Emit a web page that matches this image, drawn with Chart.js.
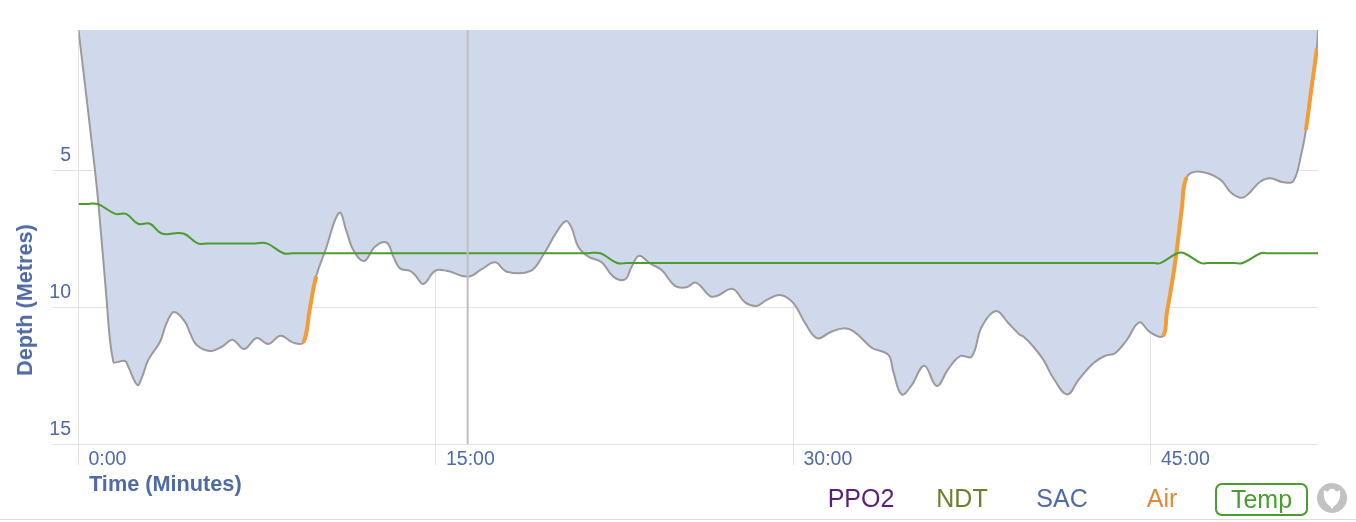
<!DOCTYPE html>
<html>
<head>
<meta charset="utf-8">
<script src="https://cdn.jsdelivr.net/npm/chart.js@4/dist/chart.umd.min.js"></script>
<style>
html,body{margin:0;padding:0;background:#fff;width:1356px;height:522px;overflow:hidden;font-family:"Liberation Sans",sans-serif}
#wrap{position:relative;width:1356px;height:522px}
canvas{position:absolute;left:0;top:0}
.t{position:absolute;white-space:nowrap}
.axis{font-weight:700;font-size:21.7px;color:#4f6aa5;line-height:24px}
#ytitle{left:25px;top:300px;transform:translate(-50%,-50%) rotate(-90deg)}
#xtitle{left:89px;top:472px}
.lg{font-size:25px;line-height:30px;top:483px;transform:translateX(-50%)}
#temp{left:1215px;top:483px;width:89px;height:29px;border:2px solid #4a9c2f;border-radius:7px;color:#4a9c2f;text-align:center;line-height:29px;font-size:25px;position:absolute}
#rule{position:absolute;left:0;top:519px;width:1356px;height:1px;background:#dcdcdc}
#icon{position:absolute;left:1317px;top:483px}
</style>
</head>
<body>
<div id="wrap">
<canvas id="c" width="1356" height="522"></canvas>
<div class="t axis" id="ytitle">Depth (Metres)</div>
<div class="t axis" id="xtitle">Time (Minutes)</div>
<div class="t lg" style="left:861px;color:#5a1f7a">PPO2</div>
<div class="t lg" style="left:962px;color:#6f7d2c">NDT</div>
<div class="t lg" style="left:1062px;color:#4f6aa5">SAC</div>
<div class="t lg" style="left:1162px;color:#e08a38">Air</div>
<div id="temp">Temp</div>
<svg id="icon" width="30" height="30" viewBox="0 0 30 30"><circle cx="15" cy="15" r="15" fill="#c2c2c2"/><path d="M7 7 C9 9 12 9 13 6 L17 6 C18 9 21 9 23 7 C24 14 22 20 17 23 L15 26 L13 23 C8 20 6 14 7 7 Z" fill="#fff"/></svg>
<div id="rule"></div>
</div>
<script>
const depthTimes = [0,0.69,0.86,1.18,1.32,1.46,1.51,1.95,2.09,2.47,2.65,2.93,3.42,3.70,4.01,4.47,4.68,4.96,5.52,6.01,6.47,6.95,7.48,7.96,8.48,9.01,9.43,9.7,9.97,10.34,10.94,11.25,11.53,11.98,12.44,12.93,13.21,13.49,13.91,14.12,14.47,14.96,15.45,16.36,16.92,17.48,17.97,18.95,19.5,20.07,20.46,20.7,20.97,21.39,21.96,22.44,22.93,23.21,23.52,23.98,24.47,25.03,25.52,25.91,26.5,26.78,27.45,27.97,28.46,28.88,29.44,30.0,30.49,31.0,31.54,32.1,32.51,33.19,33.35,33.98,34.19,34.54,34.96,35.49,36.01,36.5,36.99,37.48,37.9,38.5,39.02,39.48,39.65,40.07,40.49,40.91,41.49,41.96,42.58,43.08,43.49,43.99,44.51,44.96,45.5,45.66,46.01,46.3,46.5,47.06,47.9,48.39,48.88,49.58,50.0,50.56,50.98,51.33,51.5,51.73,51.96,52.01];
const depthValues = [-0.11,5.0,6.46,9.74,11.2,12.0,12.03,11.97,12.18,12.85,12.59,11.93,11.27,10.58,10.18,10.54,10.95,11.39,11.61,11.45,11.2,11.53,11.13,11.35,11.05,11.3,11.3,10.1,8.89,7.98,6.56,7.25,7.92,8.32,7.8,7.65,8.16,8.59,8.68,8.83,9.16,8.68,8.68,8.89,8.62,8.37,8.71,8.69,8.1,7.25,6.86,7.13,7.8,8.16,8.37,8.89,8.99,8.53,8.13,8.41,8.65,9.23,9.28,9.11,9.6,9.6,9.34,9.83,9.96,9.74,9.56,9.86,10.59,11.14,10.92,10.78,10.88,11.42,11.52,11.75,12.36,13.19,12.85,12.14,12.88,12.26,11.79,11.81,10.72,10.15,10.59,11.0,11.08,11.45,11.93,12.6,13.19,12.66,12.05,11.78,11.69,11.2,10.56,10.92,11.06,10.26,8.41,6.39,5.27,5.06,5.34,5.85,6.0,5.43,5.3,5.45,5.4,4.33,3.54,2.05,0.56,-0.11];
const tempTimes = [0,0.3,0.8,1.55,2.0,2.5,3.0,3.5,4.4,5.0,5.4,5.9,7.4,7.9,8.6,9.0,9.5,21.4,21.9,22.6,23.0,23.5,44.6,45.1,45.4,46.1,46.4,47.1,47.4,48.5,48.85,49.6,49.9,50.4,52.01];
const tempValues = [28,28,28,27,27,26,26,25,25,24,24,24,24,24,23,23,23,23,23,22,22,22,22,22,22,23,23,22,22,22,22,23,23,23,23];
const airStarts = [9.43,45.5,51.5];
const airEnds = [9.97,46.5,51.96];
const cursorTime = [16.33,16.33];
const cursorDepth = [-0.11,15];
const xTickValues = [0,15,30,45];
const yTickValues = [5,10,15];

const zip = (a,b) => a.map((x,i)=>({x, y:b[i]}));
const fmt = m => m + ':00';
const inAir = c => airStarts.some((s,i)=>c.p0.parsed.x>=s && c.p1.parsed.x<=airEnds[i]);

new Chart(document.getElementById('c'), {
  type:'line',
  data:{datasets:[
    {data:zip(cursorTime,cursorDepth), borderColor:'#bfbfbf', borderWidth:2, pointRadius:0, tension:0, order:0},
    {data:zip(tempTimes,tempValues), yAxisID:'yTemp', borderColor:'#4a9c2f', borderWidth:2, pointRadius:0, tension:0.4, order:1},
    {data:zip(depthTimes,depthValues), borderColor:'#f39c36', borderWidth:4, pointRadius:0, tension:0.4, order:2,
     segment:{borderColor:c=>inAir(c)?'#f39c36':'rgba(0,0,0,0)'}},
    {data:zip(depthTimes,depthValues), borderColor:'#9a9a9a', borderWidth:2, backgroundColor:'#d0d9ec', fill:'end', pointRadius:0, tension:0.4, order:3}
  ]},
  options:{
    responsive:false, animation:false, events:[],
    layout:{padding:{top:30,right:38,left:0,bottom:0}},
    plugins:{legend:{display:false},tooltip:{enabled:false}},
    scales:{
      x:{type:'linear',min:0,max:52.01,
        afterFit(s){s.height=78;},
        afterBuildTicks(s){s.ticks=xTickValues.map(v=>({value:v}));},
        grid:{color:'#e2e2e2',lineWidth:1,tickLength:21},
        border:{display:false},
        ticks:{color:'#4f6aa5',font:{family:'"Liberation Sans"',size:19.5},align:'start',labelOffset:10,padding:-17,maxRotation:0,autoSkip:false,callback:fmt}},
      y:{type:'linear',reverse:true,min:-0.11,max:15,
        afterFit(s){s.width=78.5;},
        afterBuildTicks(s){s.ticks=yTickValues.map(v=>({value:v}));},
        grid:{color:'#e2e2e2',lineWidth:1,tickLength:26},
        border:{display:false},
        ticks:{color:'#4f6aa5',font:{family:'"Liberation Sans"',size:19.5},labelOffset:-14,padding:-18.5}},
      yTemp:{type:'linear',display:false,min:3.6,max:45.7}
    }
  }
});
</script>
</body>
</html>
